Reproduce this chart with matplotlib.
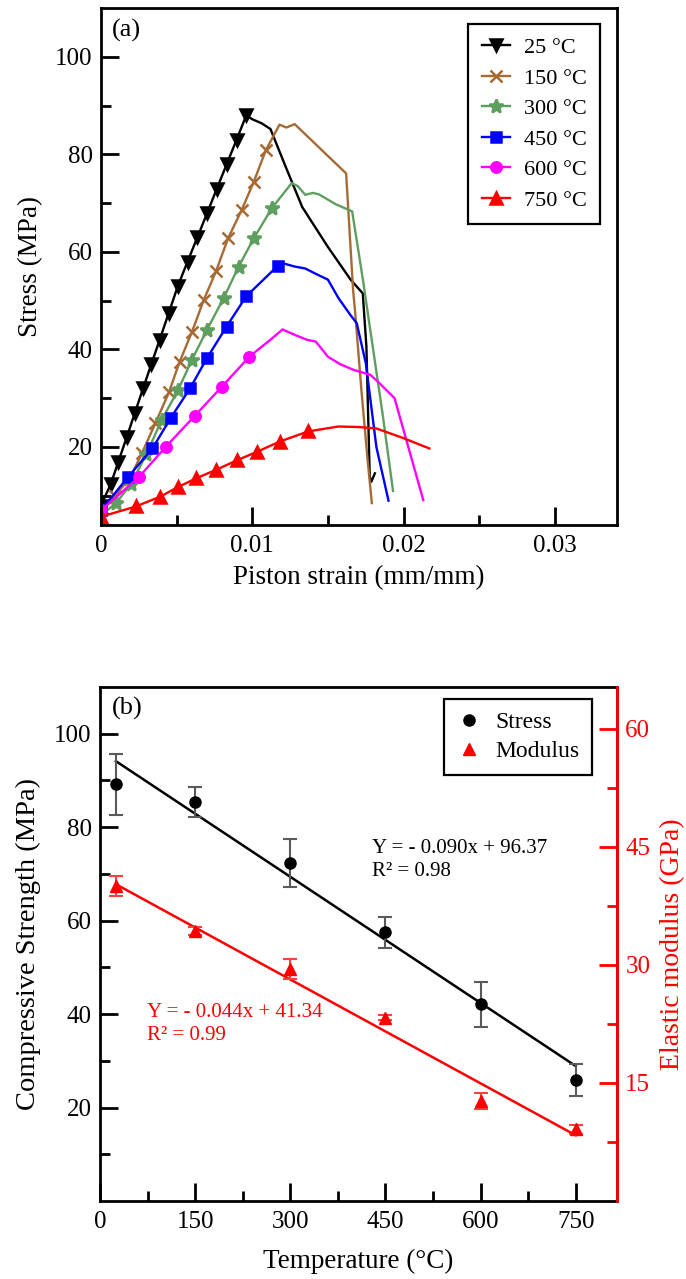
import numpy as np
import matplotlib
matplotlib.use('Agg')
import matplotlib.pyplot as plt
from matplotlib.ticker import FixedLocator
from matplotlib.lines import Line2D

plt.rcParams['font.family'] = ['Liberation Serif', 'DejaVu Serif']

# ---- panel (a): stress-strain curves ----
strain_25 = [0, 0.00066, 0.00115, 0.0017, 0.00224, 0.00278, 0.00333, 0.00388, 0.00448, 0.00508,
             0.00572, 0.00637, 0.00702, 0.00766, 0.00831, 0.00896, 0.0096,
             0.0100, 0.0106, 0.0112, 0.0122, 0.0133, 0.0150, 0.0165, 0.0171, 0.0173, 0.01754,
             0.01776, 0.01787, 0.0181]
stress_25 = [8, 12.5, 17, 22, 27, 32, 37, 42, 47.5, 53, 58, 63, 68, 73, 78, 83, 88,
             87.2, 86.4, 85.2, 77.5, 69.2, 61, 54.3, 52.2, 51.5, 40.6, 13.9, 12.9, 14.6]
nmark_25 = 17

strain_150 = [0, 0.0009, 0.0019, 0.0027, 0.0036, 0.0045, 0.0052, 0.0060, 0.0068, 0.0076, 0.0084,
              0.0093, 0.0101, 0.0109,
              0.0118, 0.01225, 0.0128, 0.0162, 0.01666, 0.0168, 0.0172, 0.0176, 0.0179]
stress_150 = [7, 10, 13.5, 18.7, 24.9, 31.3, 37.5, 43.5, 50.2, 56, 62.8, 68.6, 74.4, 80.9,
              86.1, 85.5, 86.2, 76.1, 52.2, 47.5, 32, 18, 8.5]
nmark_150 = 14

strain_300 = [0, 0.001, 0.002, 0.003, 0.004, 0.0051, 0.006, 0.007, 0.0081, 0.0091, 0.0101, 0.0113,
              0.0126, 0.0130, 0.0135, 0.0140, 0.0144, 0.0155, 0.0166, 0.0173, 0.0186, 0.0193]
stress_300 = [6, 8.5, 12.5, 18.5, 25.5, 31.7, 37.8, 44, 50.5, 57, 62.8, 69,
              74.1, 73.5, 71.7, 72.1, 71.8, 69.8, 68.3, 54.5, 27, 11]
nmark_300 = 12

strain_450 = [0, 0.0018, 0.0034, 0.0046, 0.0059, 0.0070, 0.0083, 0.0096, 0.0117,
              0.0121, 0.0128, 0.0135, 0.0142, 0.0150, 0.0157, 0.0165, 0.0169, 0.0175, 0.0182, 0.0190]
stress_450 = [7, 13.9, 19.7, 25.9, 32.1, 38.2, 44.7, 50.9, 57.2,
              57.6, 57, 56.6, 55.5, 54.3, 50.5, 47, 45.4, 37.2, 20, 9]
nmark_450 = 9

strain_600 = [0, 0.0025, 0.0043, 0.0062, 0.0080, 0.0098, 0.0112, 0.0120, 0.0128, 0.0136, 0.0142,
              0.0150, 0.0158, 0.0167, 0.0178, 0.0184, 0.0194, 0.0213]
stress_600 = [7, 13.8, 20.1, 26.4, 32.4, 38.5, 42, 44.1, 43, 42, 41.6,
              38.5, 37, 35.8, 34.8, 33.1, 30, 9.1]
nmark_600 = 6

strain_750 = [0, 0.0023, 0.0039, 0.0051, 0.0063, 0.0076, 0.0090, 0.0103, 0.0118, 0.0137,
              0.0157, 0.0170, 0.0182, 0.0200, 0.0217]
stress_750 = [5.7, 7.8, 9.8, 11.8, 13.6, 15.3, 17.3, 19.0, 21.1, 23.2,
              24.2, 24.1, 23.8, 21.8, 19.7]
nmark_750 = 10

# ---- panel (b): strength and modulus vs temperature ----
temps = [25, 150, 300, 450, 600, 750]
stress_mean = [89.2, 85.4, 72.3, 57.5, 42.1, 25.9]
stress_err = [6.5, 3.2, 5.1, 3.3, 4.8, 3.4]
modulus_mean = [40.0, 34.3, 29.5, 23.3, 12.7, 9.1]
modulus_err = [1.3, 0.5, 1.3, 0.3, 1.0, 0.6]
stress_fit = (-0.090, 96.37)
modulus_fit = (-0.044, 41.34)

TICK_FS = 18
LABEL_FS = 19.5
SPINE_W = 2.0


def style_axis(ax):
    for s in ax.spines.values():
        s.set_linewidth(SPINE_W)
    ax.tick_params(which='both', direction='in', top=False, right=False, width=SPINE_W,
                   labelsize=TICK_FS)
    ax.tick_params(which='major', length=13)
    ax.tick_params(which='minor', length=7)
    ax.tick_params(axis='x', pad=7)
    ax.tick_params(axis='y', pad=6)


fig = plt.figure(figsize=(6.86, 12.79), dpi=100)

# ================= (a) =================
ax_a = fig.add_axes([0.1472, 0.5895, 0.7522, 0.4042])
curves = [
    (strain_25, stress_25, nmark_25, '25 °C', 'black', 'v', 8),
    (strain_150, stress_150, nmark_150, '150 °C', '#a66a35', 'x', 9),
    (strain_300, stress_300, nmark_300, '300 °C', '#5e9e5e', '*', 10),
    (strain_450, stress_450, nmark_450, '450 °C', '#0000ff', 's', 7),
    (strain_600, stress_600, nmark_600, '600 °C', '#ff00ff', 'o', 7.5),
    (strain_750, stress_750, nmark_750, '750 °C', '#ff0000', '^', 8),
]
handles = []
for x, y, nm, lab, c, m, ms in curves:
    ax_a.plot(x, y, color=c, lw=1.7)
    ax_a.plot(x[:nm], y[:nm], ls='none', marker=m, markersize=ms, color=c, mec=c,
              mfc=c, mew=1.8)
    handles.append(Line2D([], [], color=c, lw=1.7, marker=m, markersize=ms, mec=c,
                          mfc=c, mew=1.8, label=lab))

ax_a.set_xlim(0, 0.0341)
ax_a.set_ylim(4, 110)
ax_a.xaxis.set_major_locator(FixedLocator([0, 0.01, 0.02, 0.03]))
ax_a.xaxis.set_minor_locator(FixedLocator([0.005, 0.015, 0.025]))
ax_a.set_xticklabels(['0', '0.01', '0.02', '0.03'])
ax_a.yaxis.set_major_locator(FixedLocator([20, 40, 60, 80, 100]))
ax_a.yaxis.set_minor_locator(FixedLocator([10, 30, 50, 70, 90]))
style_axis(ax_a)
ax_a.set_xlabel('Piston strain (mm/mm)', fontsize=LABEL_FS)
ax_a.set_ylabel('Stress (MPa)', fontsize=LABEL_FS)
ax_a.xaxis.set_label_coords(0.5, -0.077)
ax_a.yaxis.set_label_coords(-0.112, 0.5)
ax_a.text(0.021, 0.957, '(a)', transform=ax_a.transAxes, fontsize=19, va='center', ha='left')

leg = ax_a.legend(handles=handles, loc='upper right', bbox_to_anchor=(0.967, 0.969),
                  borderaxespad=0, fontsize=16, frameon=True, fancybox=False,
                  edgecolor='black', framealpha=1, labelspacing=0.45, handlelength=1.3,
                  handletextpad=0.6, borderpad=0.6)
leg.get_frame().set_linewidth(1.6)

# ================= (b) =================
ax_b = fig.add_axes([0.1458, 0.0610, 0.7536, 0.4019])
ax_r = ax_b.twinx()

t_ends = np.array([temps[0], temps[-1]])
ax_b.plot(t_ends, stress_fit[0] * t_ends + stress_fit[1], color='black', lw=1.8, zorder=2)
h_stress = ax_b.errorbar(temps, stress_mean, yerr=stress_err, fmt='o', color='black',
                         markersize=8, ecolor='#5a5a5a', elinewidth=1.5, capsize=5,
                         capthick=1.5, zorder=3, label='Stress')

ax_r.plot(t_ends, modulus_fit[0] * t_ends + modulus_fit[1], color='#ff0000', lw=1.8, zorder=2)
h_mod = ax_r.errorbar(temps, modulus_mean, yerr=modulus_err, fmt='^', color='#ff0000',
                      markersize=8.5, ecolor='#ff4040', elinewidth=1.5, capsize=5,
                      capthick=1.5, zorder=3, label='Modulus')

ax_b.set_xlim(0, 815)
ax_b.set_ylim(0, 110)
ax_r.set_ylim(0, 65.3)
ax_b.xaxis.set_major_locator(FixedLocator([0, 150, 300, 450, 600, 750]))
ax_b.xaxis.set_minor_locator(FixedLocator([75, 225, 375, 525, 675]))
ax_b.yaxis.set_major_locator(FixedLocator([20, 40, 60, 80, 100]))
ax_b.yaxis.set_minor_locator(FixedLocator([10, 30, 50, 70, 90]))
style_axis(ax_b)

ax_r.yaxis.set_major_locator(FixedLocator([15, 30, 45, 60]))
ax_r.yaxis.set_minor_locator(FixedLocator([7.5, 22.5, 37.5, 52.5]))
for s in ax_r.spines.values():
    s.set_linewidth(SPINE_W)
ax_r.spines['left'].set_visible(False)
ax_r.spines['top'].set_visible(False)
ax_r.spines['bottom'].set_visible(False)
ax_r.spines['right'].set_color('#ff0000')
ax_r.tick_params(which='both', direction='in', left=False, right=True, width=SPINE_W,
                 colors='#ff0000', labelsize=TICK_FS, pad=6)
ax_r.tick_params(which='major', length=13)
ax_r.tick_params(which='minor', length=7)

ax_b.set_xlabel('Temperature (°C)', fontsize=LABEL_FS)
ax_b.set_ylabel('Compressive Strength (MPa)', fontsize=20.5)
ax_r.set_ylabel('Elastic modulus (GPa)', fontsize=20, color='#ff0000')
ax_b.xaxis.set_label_coords(0.5, -0.094)
ax_b.yaxis.set_label_coords(-0.115, 0.5)
ax_r.yaxis.set_label_coords(1.083, 0.5)

ax_b.text(0.023, 0.959, '(b)', transform=ax_b.transAxes, fontsize=19, va='center', ha='left')
ax_b.text(428, 73.0, 'Y = - 0.090x + 96.37\nR² = 0.98', fontsize=15, color='black',
          va='center', ha='left', linespacing=1.25)
ax_b.text(74, 37.9, 'Y = - 0.044x + 41.34\nR² = 0.99', fontsize=15, color='#ff0000',
          va='center', ha='left', linespacing=1.25)

leg_b = ax_r.legend(handles=[h_stress[0], h_mod[0]], labels=['Stress', 'Modulus'],
                    loc='upper right', bbox_to_anchor=(0.952, 0.977), borderaxespad=0,
                    fontsize=17, frameon=True, fancybox=False, edgecolor='black',
                    framealpha=1, labelspacing=0.3, handlelength=1.0, handletextpad=0.6,
                    borderpad=0.55)
leg_b.get_frame().set_linewidth(1.6)
for t in leg_b.get_texts():
    t.set_color('black')

fig.savefig('out.png', dpi=100)
